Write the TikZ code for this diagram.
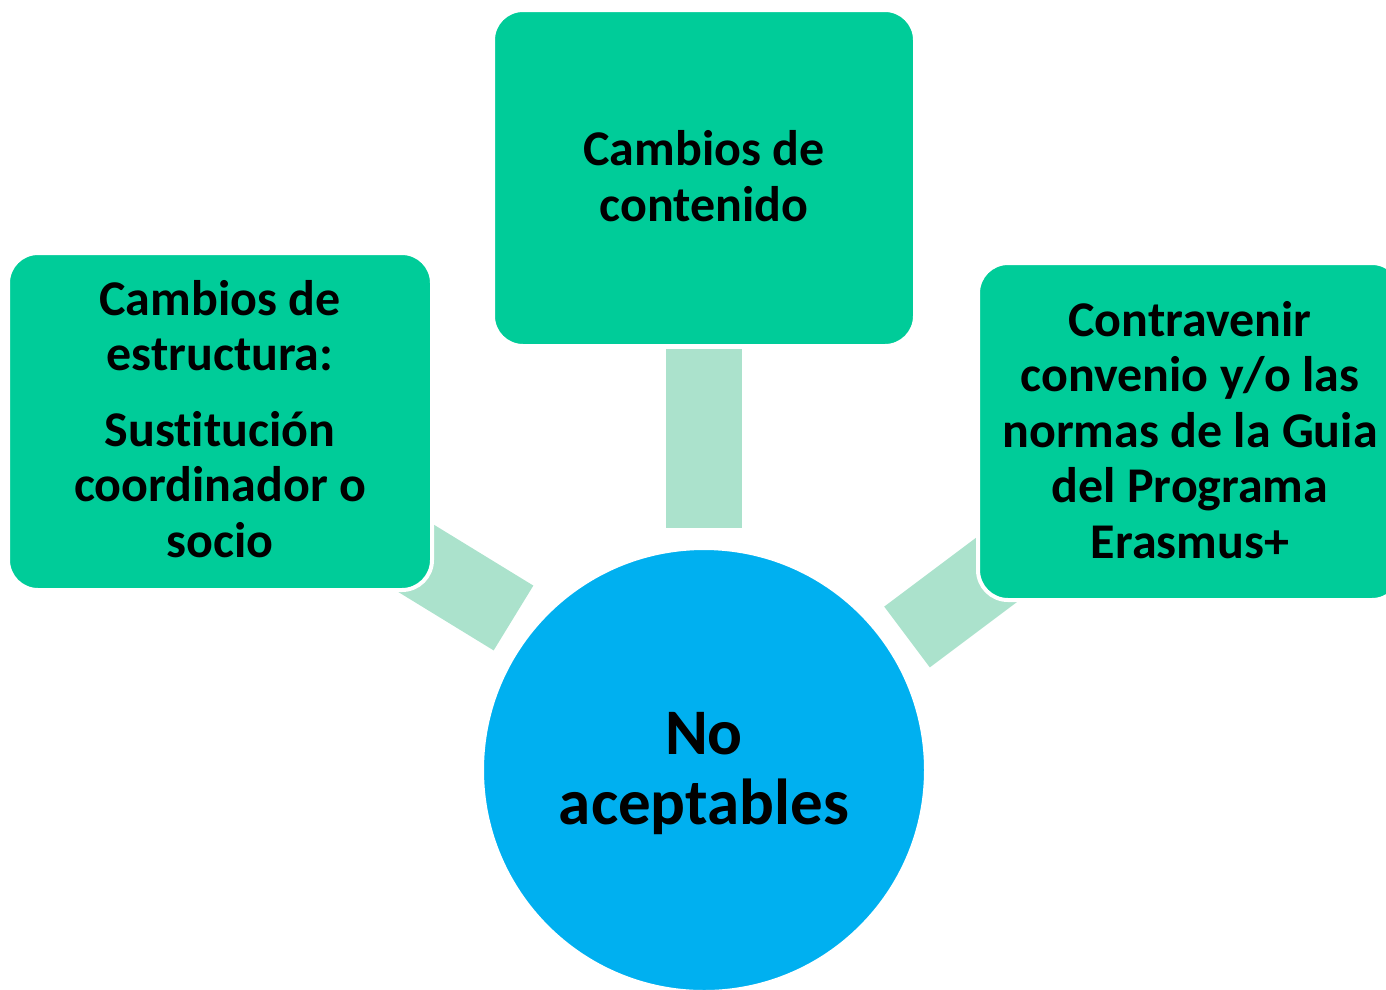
\documentclass[tikz,border=0pt]{standalone}
\usepackage{fontspec}
\setmainfont{Carlito}[Ligatures=NoCommon]
\definecolor{boxgreen}{RGB}{0,204,153}
\definecolor{conngreen}{RGB}{171,226,204}
\definecolor{circblue}{RGB}{0,176,240}
\tikzset{
  greenbox/.style={rectangle, rounded corners=30pt, fill=boxgreen, draw=white, line width=4pt,
    minimum width=424pt, minimum height=337pt, inner sep=0pt},
  conn/.style={line width=76pt, draw=conngreen},
  boxtext/.style={align=center, font=\bfseries\fontsize{50}{55.5}\selectfont, text=black},
}
\begin{document}
\begin{tikzpicture}[x=1pt,y=-1pt]
\useasboundingbox (0,0) rectangle (1386,989);
% connectors
\coordinate (t1) at (704,349);
\coordinate (t2) at (704,528);
\coordinate (l1) at (360,524);
\coordinate (l2) at (513.5,618);
\coordinate (r1) at (1051,529);
\coordinate (r2) at (907,637);
\draw[conn] (t1) -- (t2);
\draw[conn] (l1) -- (l2);
\draw[conn] (r1) -- (r2);
% boxes
\node[greenbox, minimum width=422pt, minimum height=336pt] (top) at (704,178) {};
\node[greenbox] (left) at (220,421.5) {};
\node[greenbox] (right) at (1190,431.5) {};
% circle
\node[circle, fill=circblue, draw=white, line width=4pt, minimum size=444pt, inner sep=0pt] (center) at (704,770) {};
% texts
\node[boxtext] (toptext) at (704,176) {Cambios de\\contenido};
\node[boxtext] (lefttext) at (220,419) {Cambios de\\estructura:\\[20pt]Sustitución\\coordinador o\\socio};
\node[boxtext] (righttext) at (1190,430) {Contravenir\\convenio y/o las\\normas de la Guia\\del Programa\\Erasmus+};
\node[align=center, font=\bfseries\fontsize{65}{70}\selectfont] (centertext) at (704,774) {No\\aceptables};
\end{tikzpicture}
\end{document}
